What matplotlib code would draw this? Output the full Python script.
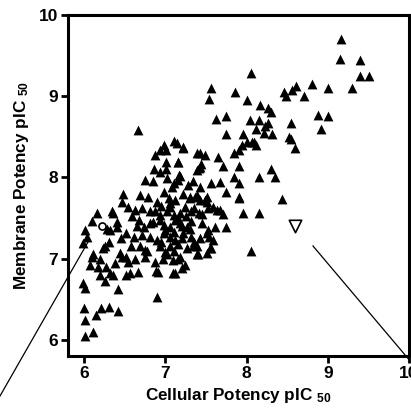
import matplotlib
matplotlib.use('Agg')
import matplotlib.pyplot as plt
from matplotlib.lines import Line2D

plt.rcParams['font.family'] = 'Liberation Sans'
plt.rcParams['font.weight'] = 'bold'
plt.rcParams['mathtext.fontset'] = 'custom'
plt.rcParams['mathtext.rm'] = 'Liberation Sans:bold'
plt.rcParams['mathtext.it'] = 'Liberation Sans:bold'
plt.rcParams['mathtext.bf'] = 'Liberation Sans:bold'

# ── Datos: potencia celular vs potencia de membrana (pIC50) ─────────────────
cell_pic50 = [
    9.16, 9.15, 9.40, 9.40, 9.51, 9.30, 9.00, 8.80, 8.61, 8.56, 8.46, 8.48, 8.71,
    8.05, 7.56, 7.54, 7.86, 8.01, 8.17, 8.26, 8.30, 7.62, 7.75, 7.74, 7.95, 8.04,
    8.15, 8.26, 8.12, 8.21, 8.31, 8.55, 8.88, 9.00, 8.91, 8.52, 8.55, 8.60, 7.94,
    8.00, 8.06, 8.11, 7.84, 7.91, 7.22, 7.39, 7.49, 7.65, 7.71, 7.91, 7.43, 7.39,
    8.30, 8.35, 8.15, 7.85, 7.90, 7.56, 7.67, 7.34, 7.75, 7.91, 8.44, 7.39, 7.49,
    7.59, 7.67, 7.71, 7.95, 8.15, 7.75, 7.54, 7.55, 8.05, 7.34, 8.22, 8.09, 7.43,
    7.14, 7.44, 7.41, 7.16, 7.18, 7.43, 7.30, 7.51, 7.90, 7.16,
    6.66, 6.98, 7.10, 7.21, 6.93, 7.01, 6.87, 7.01, 7.15, 6.86, 6.93, 7.01, 7.17,
    6.75, 6.85, 7.02, 7.10, 6.48, 6.69, 6.79, 6.98, 7.04, 7.12, 7.06, 7.30, 7.37,
    7.43, 7.51, 6.46, 6.54, 6.63, 6.71, 6.81, 6.36, 6.87, 6.93, 7.02, 7.10, 7.18,
    7.24, 7.32, 7.41, 7.53, 7.63, 6.16, 6.09, 6.28, 6.32, 6.40, 6.59, 6.67, 6.73,
    6.81, 6.93, 6.98, 7.06, 7.12, 7.18, 7.26, 7.32, 7.45, 7.53, 7.61, 6.01, 6.03,
    5.99, 6.52, 6.61, 6.71, 6.81, 6.89, 6.98, 7.06, 7.12, 7.22, 7.32, 7.43, 7.51,
    7.59, 6.26, 6.11, 6.44, 6.52, 6.69, 6.77, 6.93, 7.02, 7.10, 7.18, 7.26, 7.39,
    7.51, 6.34, 6.23, 6.09, 6.07, 6.17, 6.27, 6.38, 6.46, 6.54, 6.62, 6.75, 6.87,
    6.97, 7.09, 6.19, 6.32, 6.36, 6.52, 6.56, 6.66, 6.91, 7.09, 7.24, 7.16, 7.20,
    7.12, 7.39, 7.56, 5.99, 6.01, 6.25, 6.41, 6.90, 6.00, 6.21, 6.31, 6.41, 6.14,
    6.01, 6.11, 6.01,
    6.95, 7.05, 7.15, 7.25, 7.35, 7.00, 7.10, 7.20, 7.30, 6.90, 7.08, 7.22, 7.28,
    6.85, 6.95, 7.15, 7.35, 7.45, 6.65, 6.75, 6.58, 6.45, 6.40, 6.30, 6.20, 7.05,
    7.20, 7.40, 6.88, 7.00,
]
memb_pic50 = [
    9.70, 9.46, 9.44, 9.25, 9.25, 9.10, 9.10, 9.15, 9.13, 9.08, 9.05, 9.00, 9.00,
    9.29, 9.10, 8.96, 9.05, 8.95, 8.89, 8.85, 8.80, 8.72, 8.75, 8.54, 8.54, 8.71,
    8.71, 8.67, 8.60, 8.55, 8.54, 8.67, 8.77, 8.75, 8.60, 8.50, 8.47, 8.36, 8.40,
    8.43, 8.43, 8.40, 8.30, 8.34, 8.37, 8.30, 8.28, 8.25, 8.14, 8.14, 8.13, 8.09,
    8.10, 8.00, 8.00, 8.00, 7.93, 7.93, 7.94, 7.95, 7.82, 7.75, 7.73, 7.78, 7.72,
    7.64, 7.60, 7.55, 7.56, 7.56, 7.39, 7.27, 7.13, 7.09, 7.15, 8.63, 8.44, 8.30,
    8.42, 8.17, 8.11, 8.19, 8.02, 7.88, 7.76, 7.76, 7.76, 7.97,
    8.58, 8.40, 8.45, 8.36, 8.34, 8.34, 8.28, 8.19, 8.19, 8.10, 8.07, 8.10, 8.03,
    7.97, 7.95, 7.99, 7.93, 7.80, 7.78, 7.76, 7.82, 7.74, 7.72, 7.64, 7.74, 7.76,
    7.72, 7.70, 7.70, 7.64, 7.60, 7.62, 7.58, 7.56, 7.58, 7.54, 7.58, 7.54, 7.56,
    7.64, 7.58, 7.56, 7.62, 7.60, 7.56, 7.46, 7.37, 7.35, 7.39, 7.52, 7.48, 7.39,
    7.44, 7.48, 7.41, 7.39, 7.48, 7.44, 7.39, 7.46, 7.44, 7.35, 7.39, 7.35, 7.27,
    7.19, 7.31, 7.27, 7.29, 7.27, 7.23, 7.31, 7.27, 7.23, 7.31, 7.27, 7.25, 7.31,
    7.23, 7.15, 7.05, 7.07, 7.02, 7.15, 7.09, 7.15, 7.05, 7.09, 7.02, 7.13, 7.15,
    7.07, 7.58, 7.13, 7.02, 6.92, 6.90, 6.90, 6.94, 7.02, 6.96, 7.00, 7.02, 6.96,
    7.00, 6.98, 6.80, 6.82, 6.80, 6.80, 6.82, 6.84, 6.84, 6.82, 6.92, 7.00, 6.88,
    6.82, 7.05, 7.13, 6.70, 6.64, 6.72, 6.62, 6.53, 6.39, 6.39, 6.40, 6.35, 6.30,
    6.24, 6.10, 6.05,
    7.65, 7.68, 7.50, 7.52, 7.62, 7.35, 7.33, 7.40, 7.36, 7.70, 7.88, 7.80, 7.90,
    7.45, 7.20, 7.18, 7.20, 7.55, 7.40, 7.10, 7.15, 7.25, 7.45, 7.20, 7.00, 7.15,
    7.25, 7.05, 6.85, 7.08,
]

# compuestos destacados
circ_x, circ_y = [6.22], [7.40]
tri_x, tri_y = [8.60], [7.40]

ticks = [6, 7, 8, 9, 10]

fig = plt.figure(figsize=(4.11, 4.15), dpi=100)
ax = fig.add_axes([0.1655, 0.1422, 0.8297, 0.8217])

ax.scatter(cell_pic50, memb_pic50, marker='^', s=50, color='black', linewidths=0, zorder=3)
ax.scatter(circ_x, circ_y, marker='o', s=26, facecolor='white', edgecolor='black',
           linewidths=1.2, zorder=4)
ax.scatter(tri_x, tri_y, marker='v', s=80, facecolor='white', edgecolor='black',
           linewidths=1.2, zorder=4)

ax.set_xlim(5.8, 10)
ax.set_ylim(5.8, 10)
ax.set_xticks(ticks)
ax.set_yticks(ticks)
ax.tick_params(width=2.0, length=5, labelsize=12.5, pad=2)
for s in ax.spines.values():
    s.set_linewidth(2.2)

ax.set_xlabel('Cellular Potency pIC $_{50}$', fontsize=12.3, fontweight='bold', labelpad=4)
ax.set_ylabel('Membrane Potency pIC $_{50}$', fontsize=12.3, fontweight='bold', labelpad=6)

# líneas de conexión hacia los paneles vecinos
fig.add_artist(Line2D([0 / 411, 88 / 411], [1 - 396 / 415, 1 - 242 / 415],
                      transform=fig.transFigure, color='black', lw=0.9))
fig.add_artist(Line2D([313 / 411, 411 / 411], [1 - 246 / 415, 1 - 362 / 415],
                      transform=fig.transFigure, color='black', lw=0.9))

plt.savefig('out.png', dpi=100)
